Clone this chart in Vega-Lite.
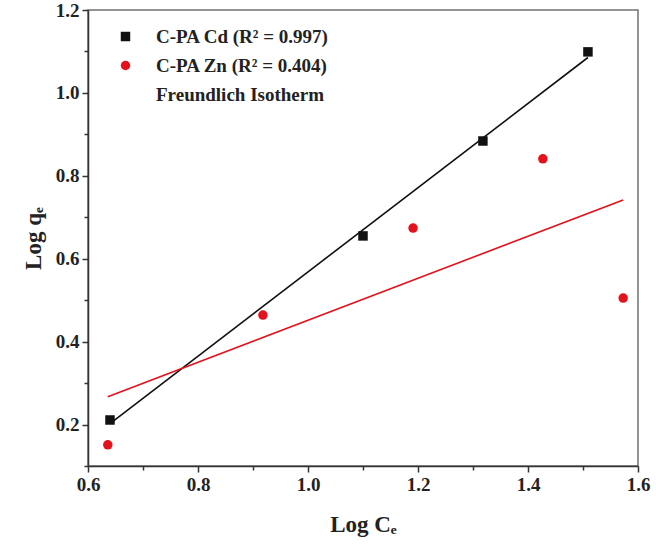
{
  "$schema": "https://vega.github.io/schema/vega-lite/v6.json",
  "width": 550,
  "height": 456,
  "autosize": {"type": "none"},
  "padding": {"left": 88, "top": 10, "right": 18, "bottom": 89},
  "background": "white",
  "config": {
    "font": "Liberation Serif",
    "view": {"stroke": "#707070", "strokeWidth": 1.5},
    "axis": {
      "grid": false,
      "labelFlush": false,
      "domainColor": "#333333",
      "domainWidth": 1.5,
      "tickColor": "#333333",
      "tickWidth": 1.5,
      "labelFont": "Liberation Serif",
      "labelFontWeight": "bold",
      "labelFontSize": 19,
      "labelColor": "#222222",
      "titleFont": "Liberation Serif",
      "titleFontWeight": "bold",
      "titleFontSize": 23,
      "titleColor": "#222222"
    },
    "legend": {
      "orient": "none",
      "legendX": 28,
      "legendY": 17,
      "labelFont": "Liberation Serif",
      "labelFontWeight": "bold",
      "labelFontSize": 19,
      "labelColor": "#222222",
      "labelLimit": 320,
      "labelOffset": 21,
      "rowPadding": 9,
      "symbolSize": 90,
      "symbolStrokeWidth": 0
    }
  },
  "data": {
    "values": [
      {"series": "C-PA Cd (R² = 0.997)", "x": 0.640, "y": 0.211},
      {"series": "C-PA Cd (R² = 0.997)", "x": 1.100, "y": 0.655},
      {"series": "C-PA Cd (R² = 0.997)", "x": 1.318, "y": 0.884},
      {"series": "C-PA Cd (R² = 0.997)", "x": 1.509, "y": 1.099},
      {"series": "C-PA Zn (R² = 0.404)", "x": 0.636, "y": 0.151},
      {"series": "C-PA Zn (R² = 0.404)", "x": 0.918, "y": 0.464},
      {"series": "C-PA Zn (R² = 0.404)", "x": 1.191, "y": 0.674},
      {"series": "C-PA Zn (R² = 0.404)", "x": 1.427, "y": 0.841},
      {"series": "C-PA Zn (R² = 0.404)", "x": 1.573, "y": 0.505}
    ]
  },
  "layer": [
    {
      "transform": [{"regression": "y", "on": "x", "groupby": ["series"]}],
      "mark": {"type": "line", "strokeWidth": 1.6},
      "encoding": {
        "x": {
          "field": "x",
          "type": "quantitative",
          "scale": {"domain": [0.6, 1.6], "nice": false, "zero": false},
          "axis": {
            "title": "Log Cₑ",
            "values": [0.6, 0.7, 0.8, 0.9, 1.0, 1.1, 1.2, 1.3, 1.4, 1.5, 1.6],
            "labelExpr": "round(datum.value * 10) % 2 ? '' : format(datum.value, '.1f')",
            "tickSize": {"expr": "round(datum.value * 10) % 2 ? 4 : 6"},
            "labelPadding": 3,
            "titlePadding": 19
          }
        },
        "y": {
          "field": "y",
          "type": "quantitative",
          "scale": {"domain": [0.1, 1.2], "nice": false, "zero": false},
          "axis": {
            "title": "Log qₑ",
            "values": [0.1, 0.2, 0.3, 0.4, 0.5, 0.6, 0.7, 0.8, 0.9, 1.0, 1.1, 1.2],
            "labelExpr": "round(datum.value * 10) % 2 ? '' : format(datum.value, '.1f')",
            "tickSize": {"expr": "round(datum.value * 10) % 2 ? 4 : 6"},
            "labelPadding": 3,
            "titlePadding": 10
          }
        },
        "stroke": {
          "field": "series",
          "type": "nominal",
          "scale": {
            "domain": ["C-PA Cd (R² = 0.997)", "C-PA Zn (R² = 0.404)"],
            "range": ["#111111", "#e3121c"]
          },
          "legend": null
        }
      }
    },
    {
      "mark": {"type": "point", "filled": true, "opacity": 1, "size": 90},
      "encoding": {
        "x": {"field": "x", "type": "quantitative"},
        "y": {"field": "y", "type": "quantitative"},
        "color": {
          "field": "series",
          "type": "nominal",
          "title": null,
          "scale": {
            "domain": ["C-PA Cd (R² = 0.997)", "C-PA Zn (R² = 0.404)", "Freundlich Isotherm"],
            "range": ["#111111", "#e3121c", "transparent"]
          }
        },
        "shape": {
          "field": "series",
          "type": "nominal",
          "title": null,
          "scale": {
            "domain": ["C-PA Cd (R² = 0.997)", "C-PA Zn (R² = 0.404)", "Freundlich Isotherm"],
            "range": ["square", "circle", "circle"]
          }
        }
      }
    }
  ]
}
